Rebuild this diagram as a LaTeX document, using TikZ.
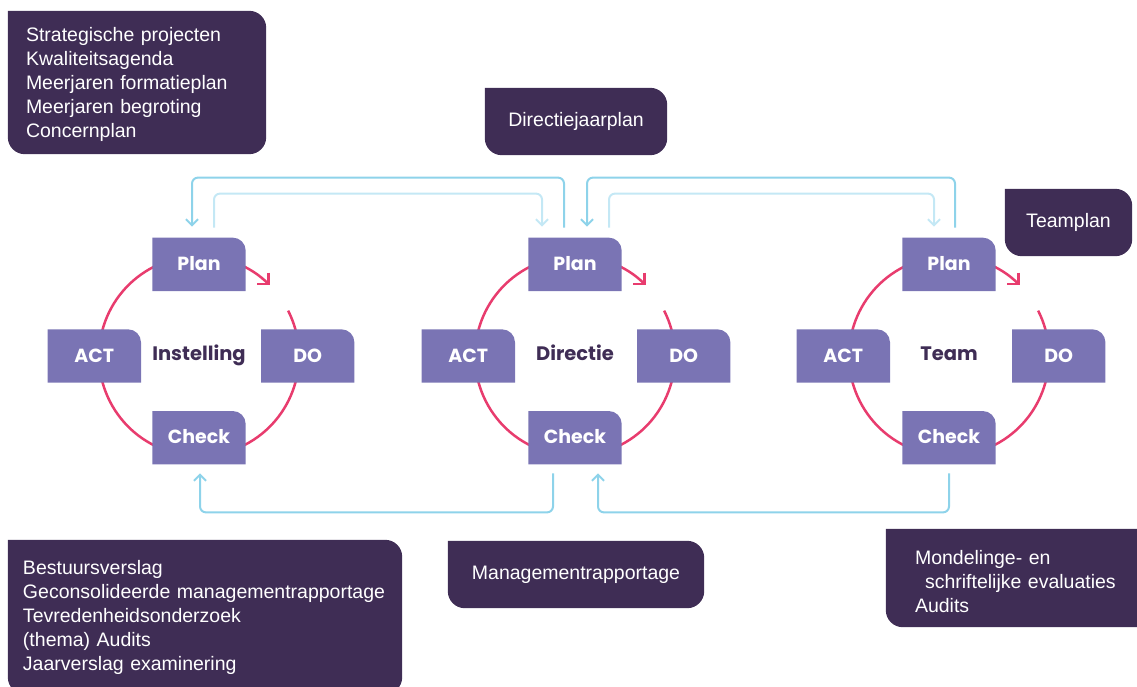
\documentclass[tikz,border=0pt]{standalone}
\usepackage{fontspec}
\setmainfont{Liberation Sans}
\newfontfamily\pdcafont{Poppins}
\usepackage{tikz}
\usetikzlibrary{arrows.meta, positioning, calc, backgrounds}

\definecolor{pdcapurple}{RGB}{122,116,180}
\definecolor{darkplum}{RGB}{63,45,85}
\definecolor{cyclepink}{RGB}{232,60,110}
\definecolor{flowblue}{RGB}{142,211,234}
\definecolor{flowpale}{RGB}{196,232,245}

\tikzstyle{phase} = [rectangle, minimum width=93pt, minimum height=53pt, inner sep=0pt, text height=13pt, text depth=1pt, text=white, font=\pdcafont\bfseries\fontsize{19}{19}\selectfont]
\tikzstyle{centre} = [text height=13pt, text depth=4pt, text=darkplum, font=\pdcafont\bfseries\fontsize{19.5}{19.5}\selectfont]
\tikzstyle{note} = [rectangle, inner ysep=0pt, text=white, font=\fontsize{19.5}{24}\selectfont]
\tikzstyle{cycleline} = [line width=2.5pt, cyclepink]
\tikzstyle{cyclearrow} = [cycleline, -{Straight Barb[length=8pt,width=16pt]}]
\tikzstyle{flow} = [line width=2pt, flowblue, rounded corners=6pt, -{Straight Barb[length=6pt,width=12pt]}]
\tikzstyle{innerflow} = [flow, flowpale]

\begin{document}
\begin{tikzpicture}[x=1pt, y=-1pt]
    \useasboundingbox (0,0) rectangle (1137,686);

    % Cycle centres
    \node[centre] (inst) at (199,356) {Instelling};
    \node[centre] (dir) at (575,356) {Directie};
    \node[centre] (team) at (949,356) {Team};

    % PDCA Instelling
    \node[phase, above=65pt of inst.center] (plan1) {Plan};
    \node[phase, left=58pt of inst.center] (act1) {ACT};
    \node[phase, right=62pt of inst.center] (do1) {DO};
    \node[phase, below=55pt of inst.center] (check1) {Check};

    % PDCA Directie
    \node[phase, above=65pt of dir.center] (plan2) {Plan};
    \node[phase, left=60pt of dir.center] (act2) {ACT};
    \node[phase, right=62pt of dir.center] (do2) {DO};
    \node[phase, below=55pt of dir.center] (check2) {Check};

    % PDCA Team
    \node[phase, above=65pt of team.center] (plan3) {Plan};
    \node[phase, left=59pt of team.center] (act3) {ACT};
    \node[phase, right=63pt of team.center] (do3) {DO};
    \node[phase, below=55pt of team.center] (check3) {Check};

    % Plans and reports
    \node[note, inner xsep=18pt, text width=222pt, minimum height=143pt, align=left] (strat) at (137,82.5) {\rule{0pt}{18pt}Strategische projecten\\Kwaliteitsagenda\\Meerjaren formatieplan\\Meerjaren begroting\\Concernplan};
    \node[note, minimum width=182pt, minimum height=67pt] (dirplan) at (576,121.5) {Directiejaarplan};
    \node[note, minimum width=127pt, minimum height=67pt] (teamplan) at (1068.5,222.5) {Teamplan};
    \node[note, inner xsep=15pt, text width=364pt, minimum height=154pt, align=left] (report) at (205,617) {Bestuursverslag\\Geconsolideerde managementrapportage\\Tevredenheidsonderzoek\\(thema) Audits\\Jaarverslag examinering};
    \node[note, minimum width=256pt, minimum height=67pt] (mgmt) at (576,574.5) {Managementrapportage};
    \node[note, inner xsep=29pt, text width=215pt, minimum height=98pt, align=left] (evals) at (1022.5,578) {\rule{0pt}{22pt}Mondelinge- en\\\hspace*{10pt}schriftelijke evaluaties\\Audits};

    \begin{scope}[on background layer]
        % Cycles
        \foreach \c in {inst, dir, team} {
            \draw[cycleline] ($(\c.center)+(-27:100)$) arc[start angle=-27, end angle=270, radius=100];
            \draw[cyclearrow] ($(\c.center)+(-90:100)$) arc[start angle=-90, end angle=-45, radius=100];
        }
        % Box shapes
        \foreach \n in {plan1, act1, do1, check1, plan2, act2, do2, check2, plan3, act3, do3, check3}
            \fill[pdcapurple] (\n.south west) -- (\n.north west) [rounded corners=13pt] -- (\n.north east) [sharp corners] -- (\n.south east) -- cycle;
        \foreach \n in {strat, dirplan, teamplan, report, mgmt, evals}
            \fill[darkplum] (\n.north west) [rounded corners=17pt] -- (\n.north east) -- (\n.south east) -- (\n.south west) [sharp corners] -- cycle;
    \end{scope}

    % Plan flows
    \draw[flow] ($(plan2.north)+(-11,-10)$) -- ($(plan2.north)+(-11,-60)$) -| ($(plan1.north)+(-7,-11)$);
    \draw[innerflow] ($(plan1.north)+(15,-10)$) -- ($(plan1.north)+(15,-44)$) -| ($(plan2.north)+(-33,-11)$);
    \draw[flow] ($(plan3.north)+(6,-10)$) -- ($(plan3.north)+(6,-60)$) -| ($(plan2.north)+(12,-11)$);
    \draw[innerflow] ($(plan2.north)+(34,-10)$) -- ($(plan2.north)+(34,-44)$) -| ($(plan3.north)+(-15,-11)$);

    % Check flows
    \draw[flow] ($(check2.south)+(-22,9)$) -- ($(check2.south)+(-22,48)$) -| ($(check1.south)+(1,9)$);
    \draw[flow] ($(check3.south)+(0,9)$) -- ($(check3.south)+(0,48)$) -| ($(check2.south)+(23,9)$);
\end{tikzpicture}
\end{document}
